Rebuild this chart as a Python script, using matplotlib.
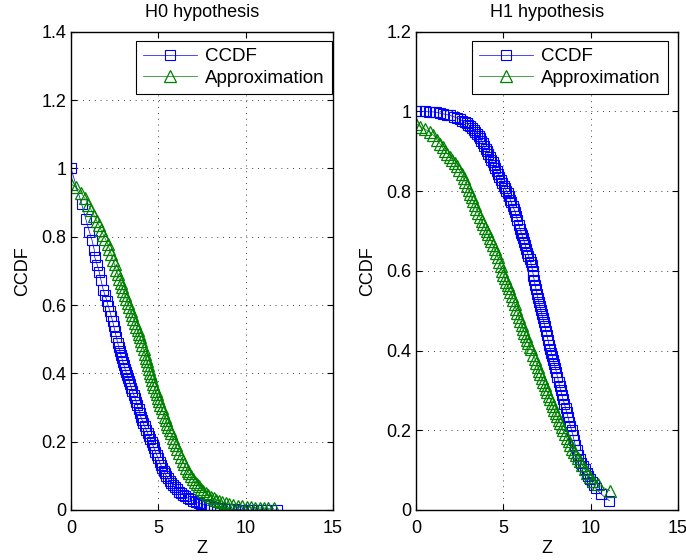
import matplotlib
matplotlib.use('Agg')
import matplotlib.pyplot as plt
from matplotlib.ticker import FuncFormatter

# H0 hypothesis: empirical CCDF
h0_ccdf_z = [0.00, 0.61, 0.84, 1.05, 1.20, 1.33, 1.35, 1.50, 1.62, 1.72, 1.85, 1.95, 2.05, 2.13,
             2.22, 2.30, 2.38, 2.45, 2.52, 2.60, 2.67, 2.73, 2.79, 2.85, 2.91, 2.97, 3.03, 3.09,
             3.15, 3.21, 3.27, 3.33, 3.39, 3.45, 3.52, 3.59, 3.66, 3.73, 3.80, 3.87, 3.94, 4.00,
             4.07, 4.14, 4.22, 4.30, 4.38, 4.46, 4.54, 4.61, 4.68, 4.75, 4.83, 4.91, 4.99, 5.07,
             5.15, 5.23, 5.30, 5.37, 5.46, 5.55, 5.64, 5.74, 5.84, 5.95, 6.06, 6.17, 6.29, 6.42,
             6.55, 6.69, 6.83, 6.98, 7.14, 7.30, 7.46, 7.63, 7.80, 7.98, 8.16, 8.35, 8.55, 8.75,
             8.96, 9.17, 9.40, 9.63, 9.87, 10.11, 10.36, 10.62, 10.88, 11.15, 11.45, 11.80]
h0_ccdf = [1.000, 0.896, 0.853, 0.815, 0.790, 0.762, 0.741, 0.718, 0.696, 0.672, 0.644, 0.628,
           0.613, 0.598, 0.582, 0.568, 0.553, 0.538, 0.523, 0.505, 0.490, 0.477, 0.466, 0.455,
           0.445, 0.434, 0.424, 0.413, 0.404, 0.395, 0.386, 0.377, 0.368, 0.358, 0.348, 0.338,
           0.328, 0.317, 0.306, 0.295, 0.283, 0.272, 0.263, 0.254, 0.245, 0.235, 0.226, 0.217,
           0.208, 0.200, 0.190, 0.181, 0.171, 0.161, 0.151, 0.140, 0.131, 0.122, 0.114, 0.107,
           0.100, 0.093, 0.086, 0.079, 0.072, 0.066, 0.060, 0.054, 0.049, 0.044, 0.040, 0.035,
           0.031, 0.027, 0.023, 0.020, 0.018, 0.016, 0.014, 0.011, 0.009, 0.007, 0.005, 0.004,
           0.003, 0.002, 0.002, 0.001, 0.001, 0.000, 0.000, 0.000, 0.000, 0.000, 0.000, 0.000]

# H0 hypothesis: approximation
h0_appr_z = [0.00, 0.30, 0.57, 0.80, 1.00, 1.17, 1.33, 1.47, 1.60, 1.72, 1.85, 1.97, 2.10, 2.20,
             2.30, 2.40, 2.49, 2.58, 2.67, 2.76, 2.84, 2.92, 3.00, 3.08, 3.17, 3.25, 3.33, 3.41,
             3.49, 3.57, 3.65, 3.73, 3.81, 3.88, 3.95, 4.02, 4.09, 4.16, 4.23, 4.29, 4.35, 4.41,
             4.47, 4.53, 4.59, 4.65, 4.70, 4.77, 4.84, 4.91, 4.98, 5.05, 5.12, 5.19, 5.27, 5.37,
             5.44, 5.51, 5.58, 5.65, 5.72, 5.81, 5.90, 5.99, 6.09, 6.19, 6.29, 6.39, 6.49, 6.59,
             6.68, 6.76, 6.86, 6.97, 7.08, 7.19, 7.31, 7.44, 7.57, 7.71, 7.85, 8.00, 8.16, 8.32,
             8.49, 8.67, 8.86, 9.06, 9.30, 9.55, 9.80, 10.05, 10.30, 10.55, 10.80, 11.05, 11.30,
             11.60]
h0_appr = [0.954, 0.945, 0.929, 0.912, 0.893, 0.877, 0.861, 0.846, 0.833, 0.820, 0.806, 0.793,
           0.779, 0.764, 0.749, 0.733, 0.719, 0.704, 0.690, 0.676, 0.664, 0.653, 0.641, 0.630,
           0.617, 0.605, 0.594, 0.582, 0.571, 0.560, 0.548, 0.537, 0.526, 0.516, 0.506, 0.494,
           0.482, 0.470, 0.457, 0.446, 0.435, 0.424, 0.413, 0.402, 0.391, 0.380, 0.370, 0.359,
           0.349, 0.339, 0.329, 0.318, 0.308, 0.298, 0.286, 0.272, 0.262, 0.252, 0.243, 0.233,
           0.224, 0.212, 0.200, 0.189, 0.178, 0.166, 0.155, 0.144, 0.134, 0.124, 0.115, 0.107,
           0.099, 0.091, 0.083, 0.076, 0.069, 0.062, 0.055, 0.049, 0.044, 0.039, 0.034, 0.030,
           0.026, 0.023, 0.020, 0.017, 0.015, 0.013, 0.011, 0.009, 0.008, 0.007, 0.006, 0.006,
           0.005, 0.005]

# H1 hypothesis: empirical CCDF
h1_ccdf_z = [0.00, 0.25, 0.50, 0.75, 0.95, 1.15, 1.35, 1.55, 1.75, 1.95, 2.15, 2.33, 2.50, 2.65,
             2.78, 2.90, 3.00, 3.10, 3.20, 3.30, 3.40, 3.50, 3.58, 3.66, 3.74, 3.82, 3.90, 3.98,
             4.06, 4.14, 4.22, 4.30, 4.38, 4.46, 4.54, 4.62, 4.70, 4.78, 4.86, 4.94, 5.02, 5.10,
             5.18, 5.25, 5.32, 5.39, 5.46, 5.53, 5.60, 5.67, 5.74, 5.81, 5.88, 5.95, 6.02, 6.08,
             6.14, 6.20, 6.26, 6.32, 6.38, 6.44, 6.50, 6.56, 6.62, 6.67, 6.72, 6.77, 6.82, 6.87,
             6.92, 6.97, 7.02, 7.08, 7.14, 7.20, 7.26, 7.32, 7.38, 7.44, 7.50, 7.56, 7.62, 7.68,
             7.74, 7.80, 7.86, 7.92, 7.98, 8.04, 8.10, 8.16, 8.22, 8.28, 8.35, 8.42, 8.49, 8.56,
             8.63, 8.70, 8.77, 8.84, 8.91, 8.98, 9.05, 9.12, 9.20, 9.28, 9.37, 9.47, 9.57, 9.67,
             9.77, 9.87, 9.97, 10.08, 10.19, 10.30, 10.60, 11.07]
h1_ccdf = [1.000, 1.000, 1.000, 0.999, 0.999, 0.998, 0.996, 0.994, 0.992, 0.990, 0.987, 0.984,
           0.980, 0.977, 0.973, 0.970, 0.967, 0.963, 0.959, 0.954, 0.949, 0.944, 0.939, 0.933,
           0.927, 0.920, 0.913, 0.906, 0.900, 0.893, 0.886, 0.879, 0.872, 0.865, 0.858, 0.851,
           0.843, 0.836, 0.828, 0.821, 0.814, 0.807, 0.801, 0.795, 0.787, 0.779, 0.772, 0.764,
           0.756, 0.748, 0.737, 0.727, 0.716, 0.706, 0.696, 0.689, 0.682, 0.673, 0.664, 0.655,
           0.646, 0.638, 0.630, 0.622, 0.614, 0.600, 0.588, 0.576, 0.565, 0.554, 0.543, 0.532,
           0.522, 0.512, 0.502, 0.492, 0.481, 0.471, 0.461, 0.450, 0.438, 0.426, 0.414, 0.404,
           0.395, 0.386, 0.376, 0.366, 0.356, 0.345, 0.334, 0.322, 0.311, 0.300, 0.289, 0.278,
           0.267, 0.256, 0.245, 0.233, 0.222, 0.211, 0.200, 0.188, 0.175, 0.162, 0.150, 0.139,
           0.129, 0.119, 0.110, 0.102, 0.094, 0.086, 0.079, 0.071, 0.062, 0.054, 0.040, 0.023]

# H1 hypothesis: approximation
h1_appr_z = [0.00, 0.25, 0.50, 0.80, 1.00, 1.20, 1.37, 1.52, 1.66, 1.80, 1.95, 2.08, 2.21, 2.34,
             2.48, 2.62, 2.72, 2.82, 2.92, 3.01, 3.10, 3.19, 3.28, 3.37, 3.46, 3.56, 3.66, 3.76,
             3.86, 3.96, 4.05, 4.14, 4.23, 4.32, 4.41, 4.50, 4.59, 4.68, 4.77, 4.85, 4.92, 5.00,
             5.08, 5.16, 5.24, 5.32, 5.40, 5.48, 5.56, 5.64, 5.72, 5.80, 5.88, 5.96, 6.04, 6.12,
             6.20, 6.28, 6.36, 6.44, 6.52, 6.60, 6.72, 6.80, 6.88, 6.96, 7.04, 7.12, 7.20, 7.28,
             7.36, 7.44, 7.52, 7.60, 7.68, 7.76, 7.84, 7.92, 8.00, 8.08, 8.16, 8.24, 8.33, 8.43,
             8.53, 8.63, 8.73, 8.83, 8.93, 9.03, 9.14, 9.26, 9.39, 9.52, 9.65, 9.80, 9.96, 10.15,
             10.40, 11.10]
h1_appr = [0.969, 0.962, 0.956, 0.948, 0.940, 0.929, 0.919, 0.910, 0.902, 0.894, 0.886, 0.878,
           0.870, 0.862, 0.853, 0.843, 0.833, 0.823, 0.813, 0.803, 0.794, 0.785, 0.775, 0.765,
           0.755, 0.745, 0.735, 0.726, 0.717, 0.708, 0.700, 0.692, 0.683, 0.674, 0.664, 0.654,
           0.645, 0.634, 0.622, 0.611, 0.600, 0.590, 0.581, 0.572, 0.565, 0.557, 0.548, 0.538,
           0.527, 0.516, 0.505, 0.495, 0.484, 0.474, 0.464, 0.454, 0.445, 0.436, 0.427, 0.418,
           0.410, 0.403, 0.390, 0.380, 0.370, 0.360, 0.350, 0.340, 0.331, 0.322, 0.313, 0.304,
           0.296, 0.287, 0.278, 0.269, 0.261, 0.252, 0.243, 0.235, 0.226, 0.218, 0.209, 0.200,
           0.191, 0.181, 0.172, 0.163, 0.154, 0.146, 0.138, 0.130, 0.122, 0.113, 0.104, 0.093,
           0.082, 0.072, 0.064, 0.048]

plt.rcParams['font.family'] = ['Liberation Sans', 'DejaVu Sans']

fig = plt.figure(figsize=(6.86, 5.6), dpi=100)
ax0 = fig.add_axes([0.1035, 0.0893, 0.382, 0.854])
ax1 = fig.add_axes([0.6064, 0.0893, 0.382, 0.854])

fmt = FuncFormatter(lambda v, p: f'{v:g}')


def draw(ax, zc, yc, za, ya, title, ymax, leg_x):
    ax.plot(zc, yc, '-s', color='#0000ff', lw=0.5, ms=6.5, mfc='none', mew=0.8, label='CCDF')
    ax.plot(za, ya, '-^', color='#008000', lw=0.5, ms=8.5, mfc='none', mew=0.9,
            label='Approximation')
    ax.set_xlim(0, 15)
    ax.set_ylim(0, ymax)
    ax.set_xticks([0, 5, 10, 15])
    ax.set_yticks([round(0.2 * i, 1) for i in range(int(round(ymax / 0.2)) + 1)])
    ax.xaxis.set_major_formatter(fmt)
    ax.yaxis.set_major_formatter(fmt)
    ax.grid(True, color='black', linestyle=(0, (1, 6)), linewidth=0.6)
    ax.tick_params(direction='in', top=True, right=True, length=4, labelsize=13)
    ax.tick_params(axis='x', pad=7.5)
    for s in ax.spines.values():
        s.set_linewidth(1.0)
    ax.set_title(title, fontsize=13, pad=10.5)
    ax.set_xlabel('Z', fontsize=13, labelpad=2)
    ax.set_ylabel('CCDF', fontsize=13, labelpad=7)
    leg = ax.legend(loc='upper right', bbox_to_anchor=(leg_x, 0.981), fontsize=13.5,
                    handlelength=2.9, fancybox=False, edgecolor='black', framealpha=1,
                    borderaxespad=0, borderpad=0.4, labelspacing=0.22, handletextpad=0.4)
    leg.get_frame().set_linewidth(0.8)


draw(ax0, h0_ccdf_z, h0_ccdf, h0_appr_z, h0_appr, 'H0 hypothesis', 1.4, 0.996)
draw(ax1, h1_ccdf_z, h1_ccdf, h1_appr_z, h1_appr, 'H1 hypothesis', 1.2, 0.962)

fig.savefig('out.png', dpi=100)
